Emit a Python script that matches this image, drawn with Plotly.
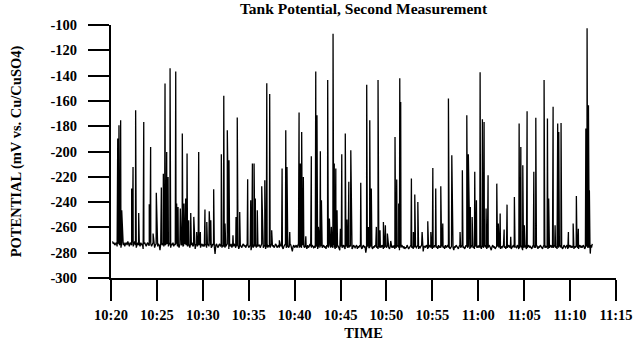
import pandas as pd
import plotly.graph_objects as go

# Resting potential logged every 5 s from 10:20:10 (mV vs. Cu/CuSO4)
baseline_start = "10:20:10"
baseline_step_s = 5
baseline_mv = [
    -271, -273, -272, -274, -273, -272, -275, -273, -271, -274, -273, -276, -272, -273, -274, -272, -275, -273, -272, -274, -271, -273, -275, -272,
    -273, -274, -272, -275, -273, -271, -274, -276, -273, -272, -274, -273, -275, -272, -274, -273, -277, -273, -272, -274, -275, -273, -272, -274,
    -274, -272, -273, -275, -274, -272, -273, -276, -274, -273, -272, -275, -273, -274, -278, -273, -272, -274, -273, -275, -272, -274, -273, -272,
    -273, -275, -274, -272, -276, -273, -274, -272, -275, -273, -274, -273, -272, -275, -274, -276, -273, -272, -274, -273, -275, -274, -272, -273,
    -274, -273, -275, -272, -274, -276, -273, -274, -272, -275, -274, -273, -277, -274, -273, -275, -272, -274, -273, -276, -274, -273, -275, -274,
    -275, -273, -274, -276, -274, -273, -275, -272, -274, -276, -275, -273, -274, -275, -281, -274, -273, -275, -276, -274, -273, -275, -274, -276,
    -274, -275, -273, -276, -275, -274, -273, -275, -277, -274, -275, -273, -276, -274, -275, -273, -274, -276, -275, -273, -274, -277, -275, -274,
    -275, -276, -274, -273, -275, -274, -276, -275, -273, -274, -276, -275, -274, -278, -275, -273, -276, -274, -275, -274, -276, -273, -275, -274,
    -274, -276, -275, -273, -274, -276, -275, -274, -277, -275, -273, -276, -274, -275, -276, -274, -273, -275, -274, -276, -275, -273, -274, -276,
    -275, -274, -276, -273, -275, -274, -276, -277, -275, -274, -273, -276, -275, -274, -276, -275, -273, -274, -276, -279, -275, -274, -276, -275,
    -274, -276, -275, -273, -276, -274, -275, -276, -274, -273, -275, -276, -274, -275, -277, -274, -276, -275, -273, -275, -276, -274, -275, -276,
    -275, -276, -274, -275, -277, -275, -274, -276, -275, -273, -276, -275, -274, -276, -275, -277, -274, -275, -276, -274, -275, -276, -274, -275,
    -276, -274, -275, -277, -275, -276, -274, -275, -276, -278, -275, -274, -276, -275, -274, -276, -277, -275, -274, -276, -275, -276, -274, -275,
    -275, -277, -276, -274, -275, -276, -275, -274, -277, -275, -276, -274, -275, -276, -277, -275, -274, -276, -275, -280, -276, -275, -274, -276,
    -276, -275, -274, -276, -277, -275, -276, -274, -275, -276, -275, -277, -274, -276, -275, -276, -274, -275, -277, -276, -275, -274, -276, -275,
    -275, -276, -277, -275, -274, -276, -275, -276, -274, -277, -275, -276, -275, -274, -276, -278, -275, -276, -274, -275, -276, -275, -277, -276,
    -276, -274, -275, -277, -276, -275, -274, -276, -275, -277, -276, -274, -275, -276, -275, -274, -277, -275, -276, -275, -274, -276, -279, -275,
    -275, -276, -274, -275, -277, -276, -275, -274, -276, -275, -277, -275, -276, -274, -275, -276, -275, -277, -274, -276, -275, -276, -274, -275,
    -276, -275, -277, -274, -276, -275, -274, -276, -275, -277, -276, -275, -274, -276, -278, -275, -276, -274, -275, -276, -277, -275, -274, -276,
    -275, -274, -276, -275, -277, -276, -274, -275, -276, -275, -274, -277, -276, -275, -274, -276, -275, -277, -275, -274, -276, -275, -276, -274,
    -276, -275, -277, -274, -275, -276, -275, -274, -276, -277, -275, -276, -274, -275, -276, -278, -275, -274, -276, -275, -277, -276, -275, -274,
    -275, -276, -274, -277, -275, -276, -275, -274, -276, -275, -277, -274, -276, -275, -274, -276, -275, -277, -276, -275, -274, -276, -275, -276,
    -276, -274, -275, -277, -276, -275, -274, -276, -278, -275, -276, -274, -275, -277, -276, -275, -274, -276, -275, -276, -277, -275, -274, -276,
    -275, -276, -274, -275, -277, -275, -276, -274, -275, -276, -277, -275, -274, -276, -275, -276, -274, -277, -275, -276, -275, -274, -276, -275,
    -276, -275, -274, -276, -275, -277, -274, -276, -275, -274, -276, -275, -277, -276, -274, -275, -276, -275, -274, -277, -276, -275, -274, -276,
    -275, -276, -274, -277, -275, -276, -274, -275, -276, -277, -275, -274, -276, -275, -276, -274, -275, -277, -276, -275, -274, -276, -275, -276,
    -275, -274, -276, -273,
]

# Transient excursions (time of reading, peak potential in mV)
spike_times = [
    "10:20:44", "10:20:52", "10:21:03", "10:21:10", "10:22:15", "10:22:24", "10:22:41", "10:23:01", "10:23:34", "10:24:10",
    "10:24:19", "10:24:35", "10:24:56", "10:25:29", "10:25:42", "10:25:53", "10:26:04", "10:26:13", "10:26:26", "10:27:03",
    "10:27:09", "10:27:18", "10:27:33", "10:27:46", "10:27:57", "10:28:08", "10:28:17", "10:28:28", "10:28:41", "10:29:01",
    "10:29:20", "10:29:33", "10:29:44", "10:30:14", "10:30:26", "10:30:42", "10:30:52", "10:31:11", "10:32:01", "10:32:17",
    "10:32:25", "10:32:40", "10:32:51", "10:33:17", "10:33:37", "10:33:45", "10:34:01", "10:34:53", "10:35:13", "10:35:24",
    "10:35:35", "10:35:43", "10:35:56", "10:36:25", "10:36:45", "10:36:58", "10:37:17", "10:37:30", "10:38:20", "10:38:38",
    "10:39:02", "10:39:10", "10:39:28", "10:40:29", "10:40:37", "10:40:46", "10:40:57", "10:41:13", "10:41:49", "10:42:18",
    "10:42:26", "10:42:35", "10:42:48", "10:42:55", "10:43:36", "10:43:47", "10:44:00", "10:44:11", "10:44:19", "10:44:29",
    "10:44:37", "10:44:59", "10:45:08", "10:45:31", "10:45:42", "10:45:54", "10:46:07", "10:47:12", "10:47:51", "10:48:02",
    "10:48:11", "10:48:21", "10:48:54", "10:49:05", "10:49:18", "10:49:40", "10:49:53", "10:50:06", "10:50:28", "10:50:56",
    "10:51:07", "10:51:20", "10:51:27", "10:51:33",
    "10:52:43", "10:52:56", "10:53:05", "10:53:25", "10:53:53", "10:54:30", "10:54:50", "10:55:03", "10:55:22", "10:55:55",
    "10:56:08", "10:56:45", "10:57:07", "10:57:13", "10:58:01", "10:58:16", "10:58:45", "10:58:55", "10:59:08", "10:59:20",
    "10:59:37", "10:59:48", "11:00:12", "11:00:27", "11:00:38", "11:00:51", "11:01:04", "11:02:01", "11:02:11", "11:02:23",
    "11:02:49", "11:03:08", "11:03:32", "11:03:56", "11:04:27", "11:04:38", "11:04:51", "11:05:01", "11:05:19", "11:06:03",
    "11:06:16", "11:07:10", "11:07:32", "11:07:40", "11:08:09", "11:08:22", "11:08:39", "11:08:46", "11:09:01", "11:09:49",
    "11:10:20", "11:10:41", "11:10:54", "11:11:43", "11:11:51", "11:12:00", "11:12:06", "11:12:12",
]
spike_mv = [
    -189.8, -179.2, -175.3, -246.5, -229.3, -212.2, -167.4, -248.6, -176.6, -241.7,
    -196.4, -264.9, -232.7, -228.5, -217.5, -146.3, -200.3, -220.1, -134.2, -136.8,
    -241.2, -243.8, -245.1, -185.8, -241.2, -237.2, -201.6, -254.4, -248.6, -251.7,
    -263.6, -200.3, -263.6, -245.9, -255.7, -247.2, -254.4, -229.8, -202.2, -156.0,
    -257.0, -183.2, -206.9, -266.2, -251.7, -173.2, -247.8, -221.9, -238.5, -209.5,
    -209.5, -237.2, -246.5, -227.5, -222.7, -146.0, -154.5, -262.3, -270.2, -213.5,
    -183.2, -212.2, -263.6, -169.2, -209.5, -184.5, -220.1, -267.0, -203.8, -136.8,
    -171.3, -259.6, -199.8, -238.5, -143.4, -253.0, -259.6, -107.0, -209.5, -213.5,
    -246.5, -261.0, -202.2, -185.8, -253.8, -224.0, -199.0, -224.8, -147.3, -259.6,
    -175.3, -229.3, -259.6, -143.4, -262.3, -255.7, -258.3, -264.9, -270.7, -188.5,
    -222.2, -241.2, -142.0, -160.8,
    -221.4, -263.6, -234.0, -239.9, -263.6, -255.2, -263.6, -213.0, -229.3, -227.5,
    -257.0, -158.1, -203.0, -259.6, -263.6, -214.8, -171.3, -202.2, -243.8, -251.7,
    -216.1, -238.5, -137.3, -174.5, -176.6, -245.1, -218.8, -225.4, -257.0, -249.1,
    -261.7, -242.0, -267.5, -235.9, -177.9, -196.4, -210.9, -258.3, -168.2, -216.1,
    -173.4, -143.4, -174.0, -237.2, -164.7, -258.3, -177.9, -184.5, -177.4, -263.6,
    -257.0, -235.1, -261.0, -181.9, -102.5, -163.4, -230.6, -280.7,
]
if len(spike_times) != len(spike_mv):
    raise ValueError("spike lists differ in length")

y_tick_vals = [-100, -120, -140, -160, -180, -200, -220, -240, -260, -280, -300]
y_tick_text = ["-100", "-120", "-140", "-160", "-180", "-200", "-220", "-240", "-260", "-280", "-300"]

DAY = "2000-01-01 "

base = pd.DataFrame({
    "t": pd.date_range(DAY + baseline_start, periods=len(baseline_mv), freq=f"{baseline_step_s}s"),
    "mv": baseline_mv,
})
spikes = pd.DataFrame({"t": pd.to_datetime([DAY + s for s in spike_times]), "mv": spike_mv})
series = pd.concat([base, spikes]).sort_values("t", kind="stable")

FONT = "Liberation Serif"
TXT = 14.5

fig = go.Figure(go.Scatter(
    x=series["t"], y=series["mv"], mode="lines",
    line=dict(color="black", width=1.3),
))

fig.update_layout(
    width=644, height=342,
    margin=dict(l=111, r=28, t=25, b=64, autoexpand=False),
    paper_bgcolor="white", plot_bgcolor="white",
    showlegend=False,
    font=dict(family=FONT, color="black", size=TXT, weight=700),
    title=dict(
        text="Tank Potential, Second Measurement",
        x=0.5, xref="paper", xanchor="center",
        y=1 - 9 / 342, yref="container", yanchor="middle",
        font=dict(family=FONT, size=15.5, weight=700, color="black"),
    ),
)

fig.update_xaxes(
    type="date", automargin=False,
    range=[DAY + "10:20", DAY + "11:15"],
    tick0=DAY + "10:20", dtick=300000, tickformat="%H:%M",
    ticks="outside", ticklen=21, tickwidth=2, tickcolor="black",
    showline=True, linewidth=2, linecolor="black",
    showgrid=False, zeroline=False,
    tickfont=dict(family=FONT, size=TXT, weight=700),
    ticklabelstandoff=2,
    title=dict(text="TIME", standoff=5, font=dict(family=FONT, size=TXT, weight=700)),
)

fig.update_yaxes(
    automargin=False,
    range=[-300, -100],
    tickmode="array", tickvals=y_tick_vals, ticktext=y_tick_text,
    ticks="outside", ticklen=21, tickwidth=2, tickcolor="black",
    showline=True, linewidth=2, linecolor="black",
    showgrid=False, zeroline=False,
    tickfont=dict(family=FONT, size=TXT, weight=700),
    ticklabelstandoff=8,
    title=dict(text="POTENTIAL (mV vs. Cu/CuSO4)", standoff=25,
               font=dict(family=FONT, size=TXT, weight=700)),
)

fig.write_html("out.html")
